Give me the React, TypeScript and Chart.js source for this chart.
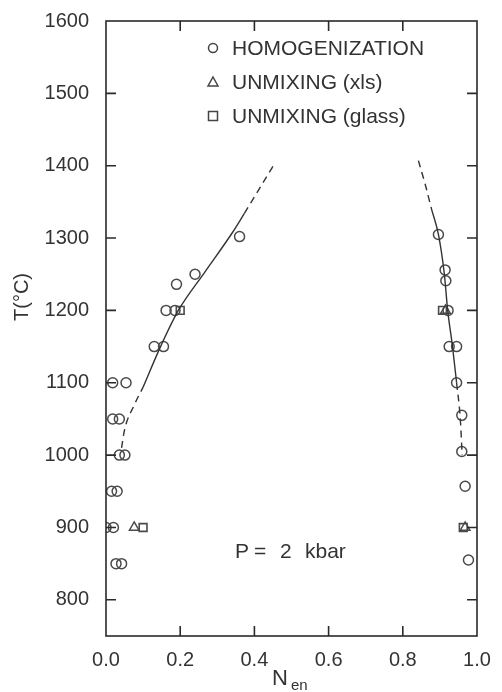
import { useEffect, useRef } from 'react';
import { Chart, registerables } from 'chart.js';
Chart.register(...registerables);

// ---- data (N_en, T °C) ----
const homogenizationN = [
  0.36, 0.24, 0.19, 0.162, 0.186, 0.13, 0.155, 0.018, 0.054, 0.018, 0.036, 0.036, 0.051,
  0.015, 0.03, 0.0, 0.02, 0.027, 0.042,
  0.896, 0.914, 0.916, 0.922, 0.925, 0.945, 0.945, 0.959, 0.959, 0.968, 0.977,
];
const homogenizationT = [
  1302, 1250, 1236, 1200, 1200, 1150, 1150, 1100, 1100, 1050, 1050, 1000, 1000,
  950, 950, 900, 900, 850, 850,
  1305, 1256, 1241, 1200, 1150, 1150, 1100, 1055, 1005, 957, 855,
];
const unmixingXlsN = [0.076, 0.915, 0.968];
const unmixingXlsT = [900, 1200, 900];
const unmixingGlassN = [0.1, 0.2, 0.907, 0.963];
const unmixingGlassT = [900, 1200, 1200, 900];

const leftDashLowN = [0.042, 0.05, 0.075, 0.1];
const leftDashLowT = [1010, 1035, 1068, 1094];
const leftSolidN = [0.1, 0.147, 0.195, 0.265, 0.34, 0.373];
const leftSolidT = [1094, 1150, 1200, 1252, 1307, 1334];
const leftDashHighN = [0.373, 0.412, 0.451];
const leftDashHighT = [1334, 1367, 1400];
const rightDashHighN = [0.842, 0.86, 0.878];
const rightDashHighT = [1407, 1375, 1339];
const rightSolidN = [0.878, 0.896, 0.912, 0.921, 0.934, 0.945];
const rightSolidT = [1339, 1305, 1250, 1200, 1150, 1100];
const rightDashLowN = [0.945, 0.955, 0.96];
const rightDashLowT = [1100, 1050, 1000];

const xTicks = [0, 0.2, 0.4, 0.6, 0.8, 1.0];
const yTicks = [800, 900, 1000, 1100, 1200, 1300, 1400, 1500, 1600];
const xInnerTicks = [0.2, 0.4, 0.6, 0.8];
const yInnerTicks = [800, 900, 1000, 1100, 1200, 1300, 1400, 1500];

const legendLabels = ['HOMOGENIZATION', 'UNMIXING (xls)', 'UNMIXING (glass)'];
const pressureLabel = ['P', '=', '2', 'kbar'];

const INK = '#333';
const FONT = '"Liberation Sans", Arial, sans-serif';

const zip = (xs: number[], ys: number[]) => xs.map((x, i) => ({ x, y: ys[i] }));

const lineDs = (xs: number[], ys: number[], dashed: boolean) => ({
  data: zip(xs, ys),
  showLine: true,
  borderColor: '#333',
  borderWidth: 1.4,
  borderDash: dashed ? [7, 5] : [],
  pointRadius: 0,
  cubicInterpolationMode: 'monotone',
  fill: false,
});

const framePlugin = {
  id: 'frame',
  afterDraw(chart: any) {
    const { ctx, chartArea: a, scales } = chart;
    const xs = scales.x;
    const ys = scales.y;
    ctx.save();
    ctx.strokeStyle = '#2a2a2a';
    ctx.lineWidth = 1.6;
    ctx.strokeRect(a.left, a.top, a.right - a.left, a.bottom - a.top);
    const tl = 10;
    ctx.beginPath();
    xInnerTicks.forEach((v) => {
      const px = xs.getPixelForValue(v);
      ctx.moveTo(px, a.bottom);
      ctx.lineTo(px, a.bottom - tl);
      ctx.moveTo(px, a.top);
      ctx.lineTo(px, a.top + tl);
    });
    yInnerTicks.forEach((v) => {
      const py = ys.getPixelForValue(v);
      ctx.moveTo(a.left, py);
      ctx.lineTo(a.left + tl, py);
      ctx.moveTo(a.right, py);
      ctx.lineTo(a.right - tl, py);
    });
    ctx.stroke();

    // legend
    ctx.fillStyle = INK;
    ctx.strokeStyle = '#444';
    ctx.lineWidth = 1.5;
    ctx.font = `21px ${FONT}`;
    ctx.textBaseline = 'middle';
    ctx.textAlign = 'left';
    const lx = 213;
    const tx = 232;
    const rows = [48, 82, 116];
    ctx.beginPath();
    ctx.arc(lx, rows[0], 4.5, 0, Math.PI * 2);
    ctx.stroke();
    ctx.beginPath();
    ctx.moveTo(lx, rows[1] - 5);
    ctx.lineTo(lx + 5, rows[1] + 4);
    ctx.lineTo(lx - 5, rows[1] + 4);
    ctx.closePath();
    ctx.stroke();
    ctx.strokeRect(lx - 4.5, rows[2] - 4.5, 9, 9);
    legendLabels.forEach((t, i) => ctx.fillText(t, tx, rows[i] + 1));

    // pressure annotation
    ctx.font = `21px ${FONT}`;
    const px = [235, 254, 280, 305];
    pressureLabel.forEach((t, i) => ctx.fillText(t, px[i], 552));

    // x title N_en
    ctx.textAlign = 'left';
    ctx.font = `22px ${FONT}`;
    ctx.fillText('N', 272, 679);
    ctx.font = `15px ${FONT}`;
    ctx.fillText('en', 291, 686);

    // y title
    ctx.save();
    ctx.translate(22, 297);
    ctx.rotate(-Math.PI / 2);
    ctx.textAlign = 'center';
    ctx.font = `20px ${FONT}`;
    ctx.fillText('T(°C)', 0, 0);
    ctx.restore();

    ctx.restore();
  },
};

export default function App() {
  const ref = useRef<HTMLCanvasElement | null>(null);
  useEffect(() => {
    if (!ref.current) return;
    const chart = new Chart(ref.current, {
      type: 'scatter',
      data: {
        datasets: [
          lineDs(leftDashLowN, leftDashLowT, true),
          lineDs(leftSolidN, leftSolidT, false),
          lineDs(leftDashHighN, leftDashHighT, true),
          lineDs(rightDashHighN, rightDashHighT, true),
          lineDs(rightSolidN, rightSolidT, false),
          lineDs(rightDashLowN, rightDashLowT, true),
          {
            data: zip(homogenizationN, homogenizationT),
            pointStyle: 'circle',
            pointRadius: 5,
            pointBorderWidth: 1.5,
            pointBorderColor: '#4a4a4a',
            pointBackgroundColor: 'rgba(0,0,0,0)',
            showLine: false,
          },
          {
            data: zip(unmixingXlsN, unmixingXlsT),
            pointStyle: 'triangle',
            pointRadius: 5.5,
            pointBorderWidth: 1.5,
            pointBorderColor: '#4a4a4a',
            pointBackgroundColor: 'rgba(0,0,0,0)',
            showLine: false,
          },
          {
            data: zip(unmixingGlassN, unmixingGlassT),
            pointStyle: 'rect',
            pointRadius: 5.5,
            pointBorderWidth: 1.6,
            pointBorderColor: '#4a4a4a',
            pointBackgroundColor: 'rgba(0,0,0,0)',
            showLine: false,
          },
        ] as any,
      },
      options: {
        animation: false,
        responsive: false,
        maintainAspectRatio: false,
        layout: { padding: { top: 14, right: 25, left: 0, bottom: 0 } },
        plugins: { legend: { display: false }, tooltip: { enabled: false } },
        scales: {
          x: {
            type: 'linear',
            min: 0,
            max: 1,
            afterBuildTicks: (s: any) => {
              s.ticks = xTicks.map((v) => ({ value: v }));
            },
            afterFit: (s: any) => {
              s.height = 56;
            },
            grid: { display: false },
            border: { display: false },
            ticks: {
              padding: 4,
              color: INK,
              font: { family: FONT, size: 20 },
              callback: (v: any) => Number(v).toFixed(1),
            },
          },
          y: {
            type: 'linear',
            min: 750,
            max: 1600,
            afterBuildTicks: (s: any) => {
              s.ticks = yTicks.map((v) => ({ value: v }));
            },
            afterFit: (s: any) => {
              s.width = 106;
            },
            grid: { display: false },
            border: { display: false },
            ticks: {
              padding: 9,
              color: INK,
              font: { family: FONT, size: 20 },
              callback: (v: any) => String(v),
            },
          },
        },
      },
      plugins: [framePlugin],
    });
    return () => chart.destroy();
  }, []);
  return (
    <div style={{ position: 'absolute', left: 0, top: 0, width: 502, height: 692, background: '#fff' }}>
      <canvas ref={ref} width={502} height={692} style={{ width: 502, height: 692, display: 'block' }} />
    </div>
  );
}
